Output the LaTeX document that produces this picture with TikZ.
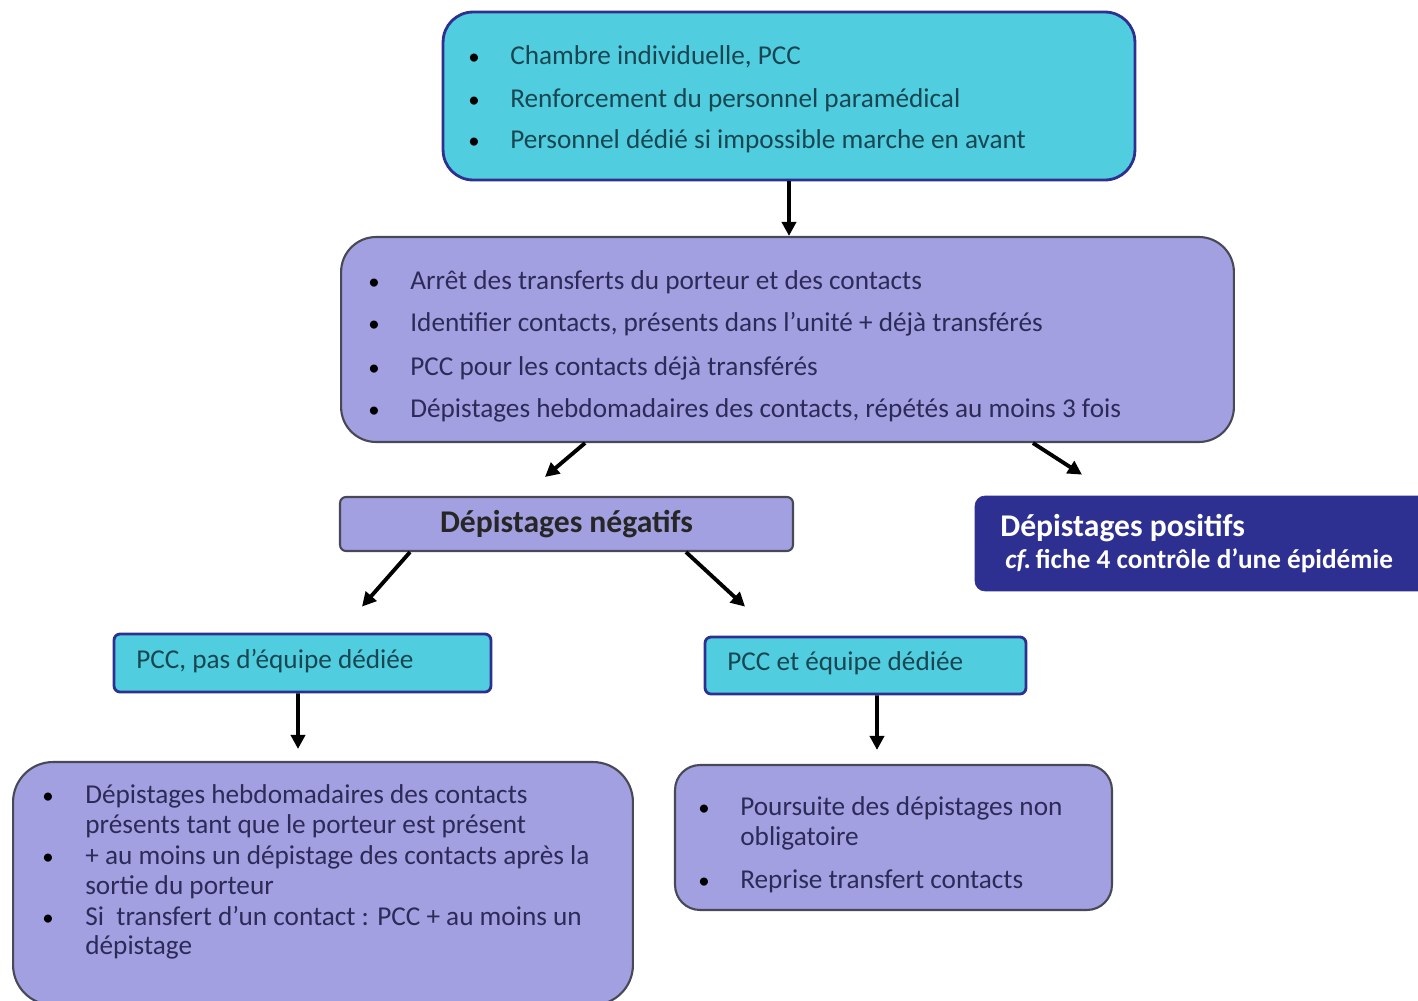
\documentclass[tikz,border=0pt]{standalone}
\usepackage{fontspec}
\setmainfont{Carlito}
\usetikzlibrary{arrows.meta}

\definecolor{cyanfill}{RGB}{80,205,222}
\definecolor{lilacfill}{RGB}{162,160,224}
\definecolor{navy}{RGB}{46,48,145}
\definecolor{tealtext}{RGB}{26,70,82}
\definecolor{lilactext}{RGB}{44,43,88}
\definecolor{edgegray}{RGB}{72,72,86}

\tikzset{
  cyanbox/.style={draw=navy, fill=cyanfill, line width=1.6pt, inner sep=0pt},
  lilacbox/.style={draw=edgegray, fill=lilacfill, line width=1.2pt, inner sep=0pt},
  navybox/.style={draw=navy, fill=navy, inner sep=0pt},
  txt/.style={anchor=base west, inner sep=0pt, font=\fontsize{15.5}{18}\selectfont},
  bul/.style={anchor=base, inner sep=0pt, font=\fontsize{13}{15}\selectfont},
  arr/.style={-{Triangle[length=8pt,width=8pt]}, line width=2.2pt, black}
}

\begin{document}
\begin{tikzpicture}[x=0.02cm, y=-0.02cm]
\useasboundingbox (0,0) rectangle (1418,1001);

% boxes
\node[cyanbox, rounded corners=0.6cm, minimum width=13.84cm, minimum height=3.36cm] (top) at (789,96) {};
\node[lilacbox, rounded corners=0.7cm, minimum width=17.86cm, minimum height=4.1cm] (mid) at (787.5,339.5) {};
\node[lilacbox, rounded corners=0.12cm, minimum width=9.06cm, minimum height=1.08cm] (neg) at (566.5,524) {};
\node[navybox, rounded corners=0.2cm, minimum width=9.3cm, minimum height=1.9cm] (pos) at (1207.5,543.5) {};
\node[cyanbox, rounded corners=0.12cm, minimum width=7.54cm, minimum height=1.16cm] (pcca) at (302.5,663) {};
\node[cyanbox, rounded corners=0.12cm, minimum width=6.42cm, minimum height=1.14cm] (pccb) at (865.5,665.5) {};
\node[lilacbox, rounded corners=0.8cm, minimum width=12.4cm, minimum height=4.86cm] (suivia) at (323,883.5) {};
\node[lilacbox, rounded corners=0.5cm, minimum width=8.74cm, minimum height=2.9cm] (suivib) at (893.5,837.5) {};

% top box text
\node[bul, text=black] (ta) at (474,64) {\textbullet};
\node[txt, text=tealtext] (tta) at (510,64) {Chambre individuelle, PCC};
\node[bul, text=black] (tb) at (474,107) {\textbullet};
\node[txt, text=tealtext] (ttb) at (510,107) {Renforcement du personnel paramédical};
\node[bul, text=black] (tc) at (474,148) {\textbullet};
\node[txt, text=tealtext] (ttc) at (510,148) {Personnel dédié si impossible marche en avant};

% middle box text
\node[bul, text=black] (ma) at (374,289) {\textbullet};
\node[txt, text=lilactext] (mta) at (410,289) {Arrêt des transferts du porteur et des contacts};
\node[bul, text=black] (mb) at (374,331) {\textbullet};
\node[txt, text=lilactext] (mtb) at (410,331) {Identifier contacts, présents dans l’unité + déjà transférés};
\node[bul, text=black] (mc) at (374,375) {\textbullet};
\node[txt, text=lilactext] (mtc) at (410,375) {PCC pour les contacts déjà transférés};
\node[bul, text=black] (md) at (374,417) {\textbullet};
\node[txt, text=lilactext] (mtd) at (410,417) {Dépistages hebdomadaires des contacts, répétés au moins 3 fois};

% results
\node[inner sep=0pt, font=\fontsize{18}{21}\selectfont\bfseries, text=black!85] (negt) at (neg.center) {Dépistages négatifs};
\node[txt, font=\fontsize{18}{21}\selectfont\bfseries, text=white] (posa) at (1000,536) {Dépistages positifs};
\node[txt, font=\fontsize{15.5}{18}\selectfont\bfseries, text=white] (posb) at (1005,568) {\textit{cf.}\kern-1pt\ fiche 4 contrôle d’une épidémie};

\node[txt, text=tealtext] (pcct) at (136,668) {PCC, pas d’équipe dédiée};
\node[txt, text=tealtext] (pcctb) at (727,670) {PCC et équipe dédiée};

% bottom left text
\node[bul, text=black] (ba) at (48,803) {\textbullet};
\node[txt, text=lilactext] (bta) at (85,803) {Dépistages hebdomadaires des contacts};
\node[txt, text=lilactext] (btb) at (85,833) {présents tant que le porteur est présent};
\node[bul, text=black] (bb) at (48,864) {\textbullet};
\node[txt, text=lilactext] (btc) at (85,864) {+ au moins un dépistage des contacts après la};
\node[txt, text=lilactext] (btd) at (85,894) {sortie du porteur};
\node[bul, text=black] (bc) at (48,925) {\textbullet};
\node[txt, text=lilactext] (bte) at (85,925) {Si\ \ transfert d’un contact : PCC + au moins un};
\node[txt, text=lilactext] (btf) at (85,954) {dépistage};

% bottom right text
\node[bul, text=black] (ca) at (704,815) {\textbullet};
\node[txt, text=lilactext] (cta) at (740,815) {Poursuite des dépistages non};
\node[txt, text=lilactext] (ctb) at (740,845) {obligatoire};
\node[bul, text=black] (cb) at (704,888) {\textbullet};
\node[txt, text=lilactext] (ctc) at (740,888) {Reprise transfert contacts};

% arrows
\draw[arr] (top.south) -- (top.south |- mid.north);
\draw[arr] ([xshift=-4.05cm]mid.south) -- ([xshift=-0.43cm,yshift=0.38cm]neg.north);
\draw[arr] ([xshift=4.91cm]mid.south) -- ([xshift=-2.51cm,yshift=0.42cm]pos.north);
\draw[arr] ([xshift=-3.13cm]neg.south) -- ([xshift=1.19cm,yshift=0.52cm]pcca.north);
\draw[arr] ([xshift=2.39cm]neg.south) -- ([xshift=-2.41cm,yshift=0.58cm]pccb.north);
\draw[arr] ([xshift=-0.09cm]pcca.south) -- ([xshift=-0.5cm,yshift=0.24cm]suivia.north);
\draw[arr] ([xshift=0.23cm]pccb.south) -- ([xshift=-0.33cm,yshift=0.28cm]suivib.north);
\end{tikzpicture}
\end{document}
